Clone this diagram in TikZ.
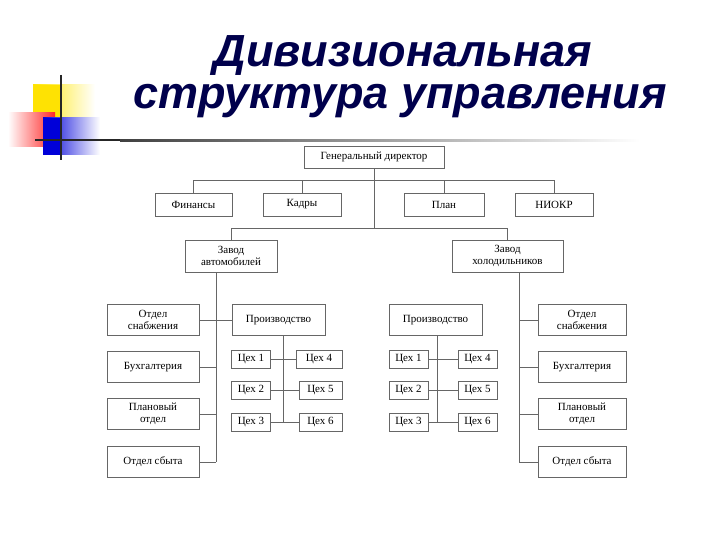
\documentclass[tikz,border=0pt]{standalone}
\usepackage{fontspec}
\setmainfont{Liberation Serif}
\newfontfamily\titlefont{Liberation Sans}
\begin{document}
\begin{tikzpicture}[x=1pt,y=-1pt,
  bx/.style={draw=gray!80!black,line width=0.6pt,font=\fontsize{11}{12}\selectfont,inner sep=0pt,anchor=center},
  two/.style={align=center},
  ln/.style={draw=gray!80!black,line width=0.6pt}]
\useasboundingbox (0,0) rectangle (720,540);
\fill[white] (0,0) rectangle (720,540);
% decoration
\shade[left color=yellow!80!orange,right color=white] (33,85) rectangle (95,122);
\fill[yellow!85!orange] (33,85) rectangle (62,122);
\shade[left color=white,right color=red!85] (8,113) rectangle (55,147);
\shade[left color=blue!85!black,right color=white] (43,118) rectangle (100,155);
\fill[blue!85!black] (43,118) rectangle (62,155);
\draw[line width=2pt,black!85] (61,75) -- (61,160);
\draw[line width=2pt,black!85] (35,140) -- (120,140);
\shade[left color=black!75,right color=white] (120,139.2) rectangle (640,141.2);
% title
\node[font=\titlefont\bfseries\itshape\fontsize{45}{48}\selectfont,text=blue!30!black] (t1) at (403,56) {Дивизиональная};
\node[font=\titlefont\bfseries\itshape\fontsize{45}{48}\selectfont,text=blue!30!black] (t2) at (400,101) {структура управления};
% top
\node[bx,minimum width=140,minimum height=22] (gd) at (374,157) {Генеральный директор};
\node[bx,minimum width=77,minimum height=23] (fin) at (193.5,204.5) {Финансы};
\node[bx,minimum width=78,minimum height=23] (kad) at (302,204.5) {Кадры};
\node[bx,minimum width=80,minimum height=23] (plan) at (444,204.5) {План};
\node[bx,minimum width=78,minimum height=23] (niokr) at (554,204.5) {НИОКР};
\coordinate (j1) at (374,180);
\coordinate (j2) at (374,228);
\draw[ln] (gd) -- (j2);
\draw[ln] (fin.north) -- (fin.north |- j1) -- (niokr.north |- j1) -- (niokr.north);
\draw[ln] (kad.north) -- (kad.north |- j1);
\draw[ln] (plan.north) -- (plan.north |- j1);
\node[bx,two,minimum width=92,minimum height=32] (za) at (231,256) {Завод\\автомобилей};
\node[bx,two,minimum width=111,minimum height=32] (zh) at (507.5,256) {Завод\\холодильников};
\draw[ln] (za.north) -- (za.north |- j2) -- (zh.north |- j2) -- (zh.north);
% side columns
\node[bx,two,minimum width=92,minimum height=31] (ls) at (153,320) {Отдел\\снабжения};
\node[bx,minimum width=92,minimum height=31] (lb) at (153,367) {Бухгалтерия};
\node[bx,two,minimum width=92,minimum height=31] (lp) at (153,414) {Плановый\\отдел};
\node[bx,minimum width=92,minimum height=31] (lo) at (153,462) {Отдел сбыта};
\node[bx,two,minimum width=88,minimum height=31] (rs) at (582,320) {Отдел\\снабжения};
\node[bx,minimum width=88,minimum height=31] (rb) at (582,367) {Бухгалтерия};
\node[bx,two,minimum width=88,minimum height=31] (rp) at (582,414) {Плановый\\отдел};
\node[bx,minimum width=88,minimum height=31] (ro) at (582,462) {Отдел сбыта};
\coordinate (lv) at (216,272);
\coordinate (rv) at (519,272);
\draw[ln] (lv) -- (lv |- lo);
\draw[ln] (rv) -- (rv |- ro);
\foreach \n in {ls,lb,lp,lo} \draw[ln] (\n.east) -- (\n.east -| lv);
\foreach \n in {rs,rb,rp,ro} \draw[ln] (\n.west) -- (\n.west -| rv);
\node[bx,minimum width=93,minimum height=31] (lpr) at (278.5,320) {Производство};
\node[bx,minimum width=93,minimum height=31] (rpr) at (435.5,320) {Производство};
\draw[ln] (lpr.west) -- (lpr.west -| lv);
% workshops
\tikzset{cx/.style={bx,minimum height=18,minimum width=39}}
\node[cx] (a1) at (251,359) {Цех 1};
\node[cx] (a2) at (251,390) {Цех 2};
\node[cx] (a3) at (251,422) {Цех 3};
\node[cx,minimum width=46] (a4) at (319,359) {Цех 4};
\node[cx,minimum width=43] (a5) at (320.5,390) {Цех 5};
\node[cx,minimum width=43] (a6) at (320.5,422) {Цех 6};
\coordinate (av) at (283,335);
\draw[ln] (av) -- (283,422);
\foreach \n in {a1,a2,a3} \draw[ln] (\n.east) -- (\n.east -| av);
\foreach \n in {a4,a5,a6} \draw[ln] (\n.west) -- (\n.west -| av);
\node[cx] (b1) at (408.5,359) {Цех 1};
\node[cx] (b2) at (408.5,390) {Цех 2};
\node[cx] (b3) at (408.5,422) {Цех 3};
\node[cx] (b4) at (477.5,359) {Цех 4};
\node[cx] (b5) at (477.5,390) {Цех 5};
\node[cx] (b6) at (477.5,422) {Цех 6};
\coordinate (bv) at (437,335);
\draw[ln] (bv) -- (437,422);
\foreach \n in {b1,b2,b3} \draw[ln] (\n.east) -- (\n.east -| bv);
\foreach \n in {b4,b5,b6} \draw[ln] (\n.west) -- (\n.west -| bv);
\end{tikzpicture}
\end{document}
